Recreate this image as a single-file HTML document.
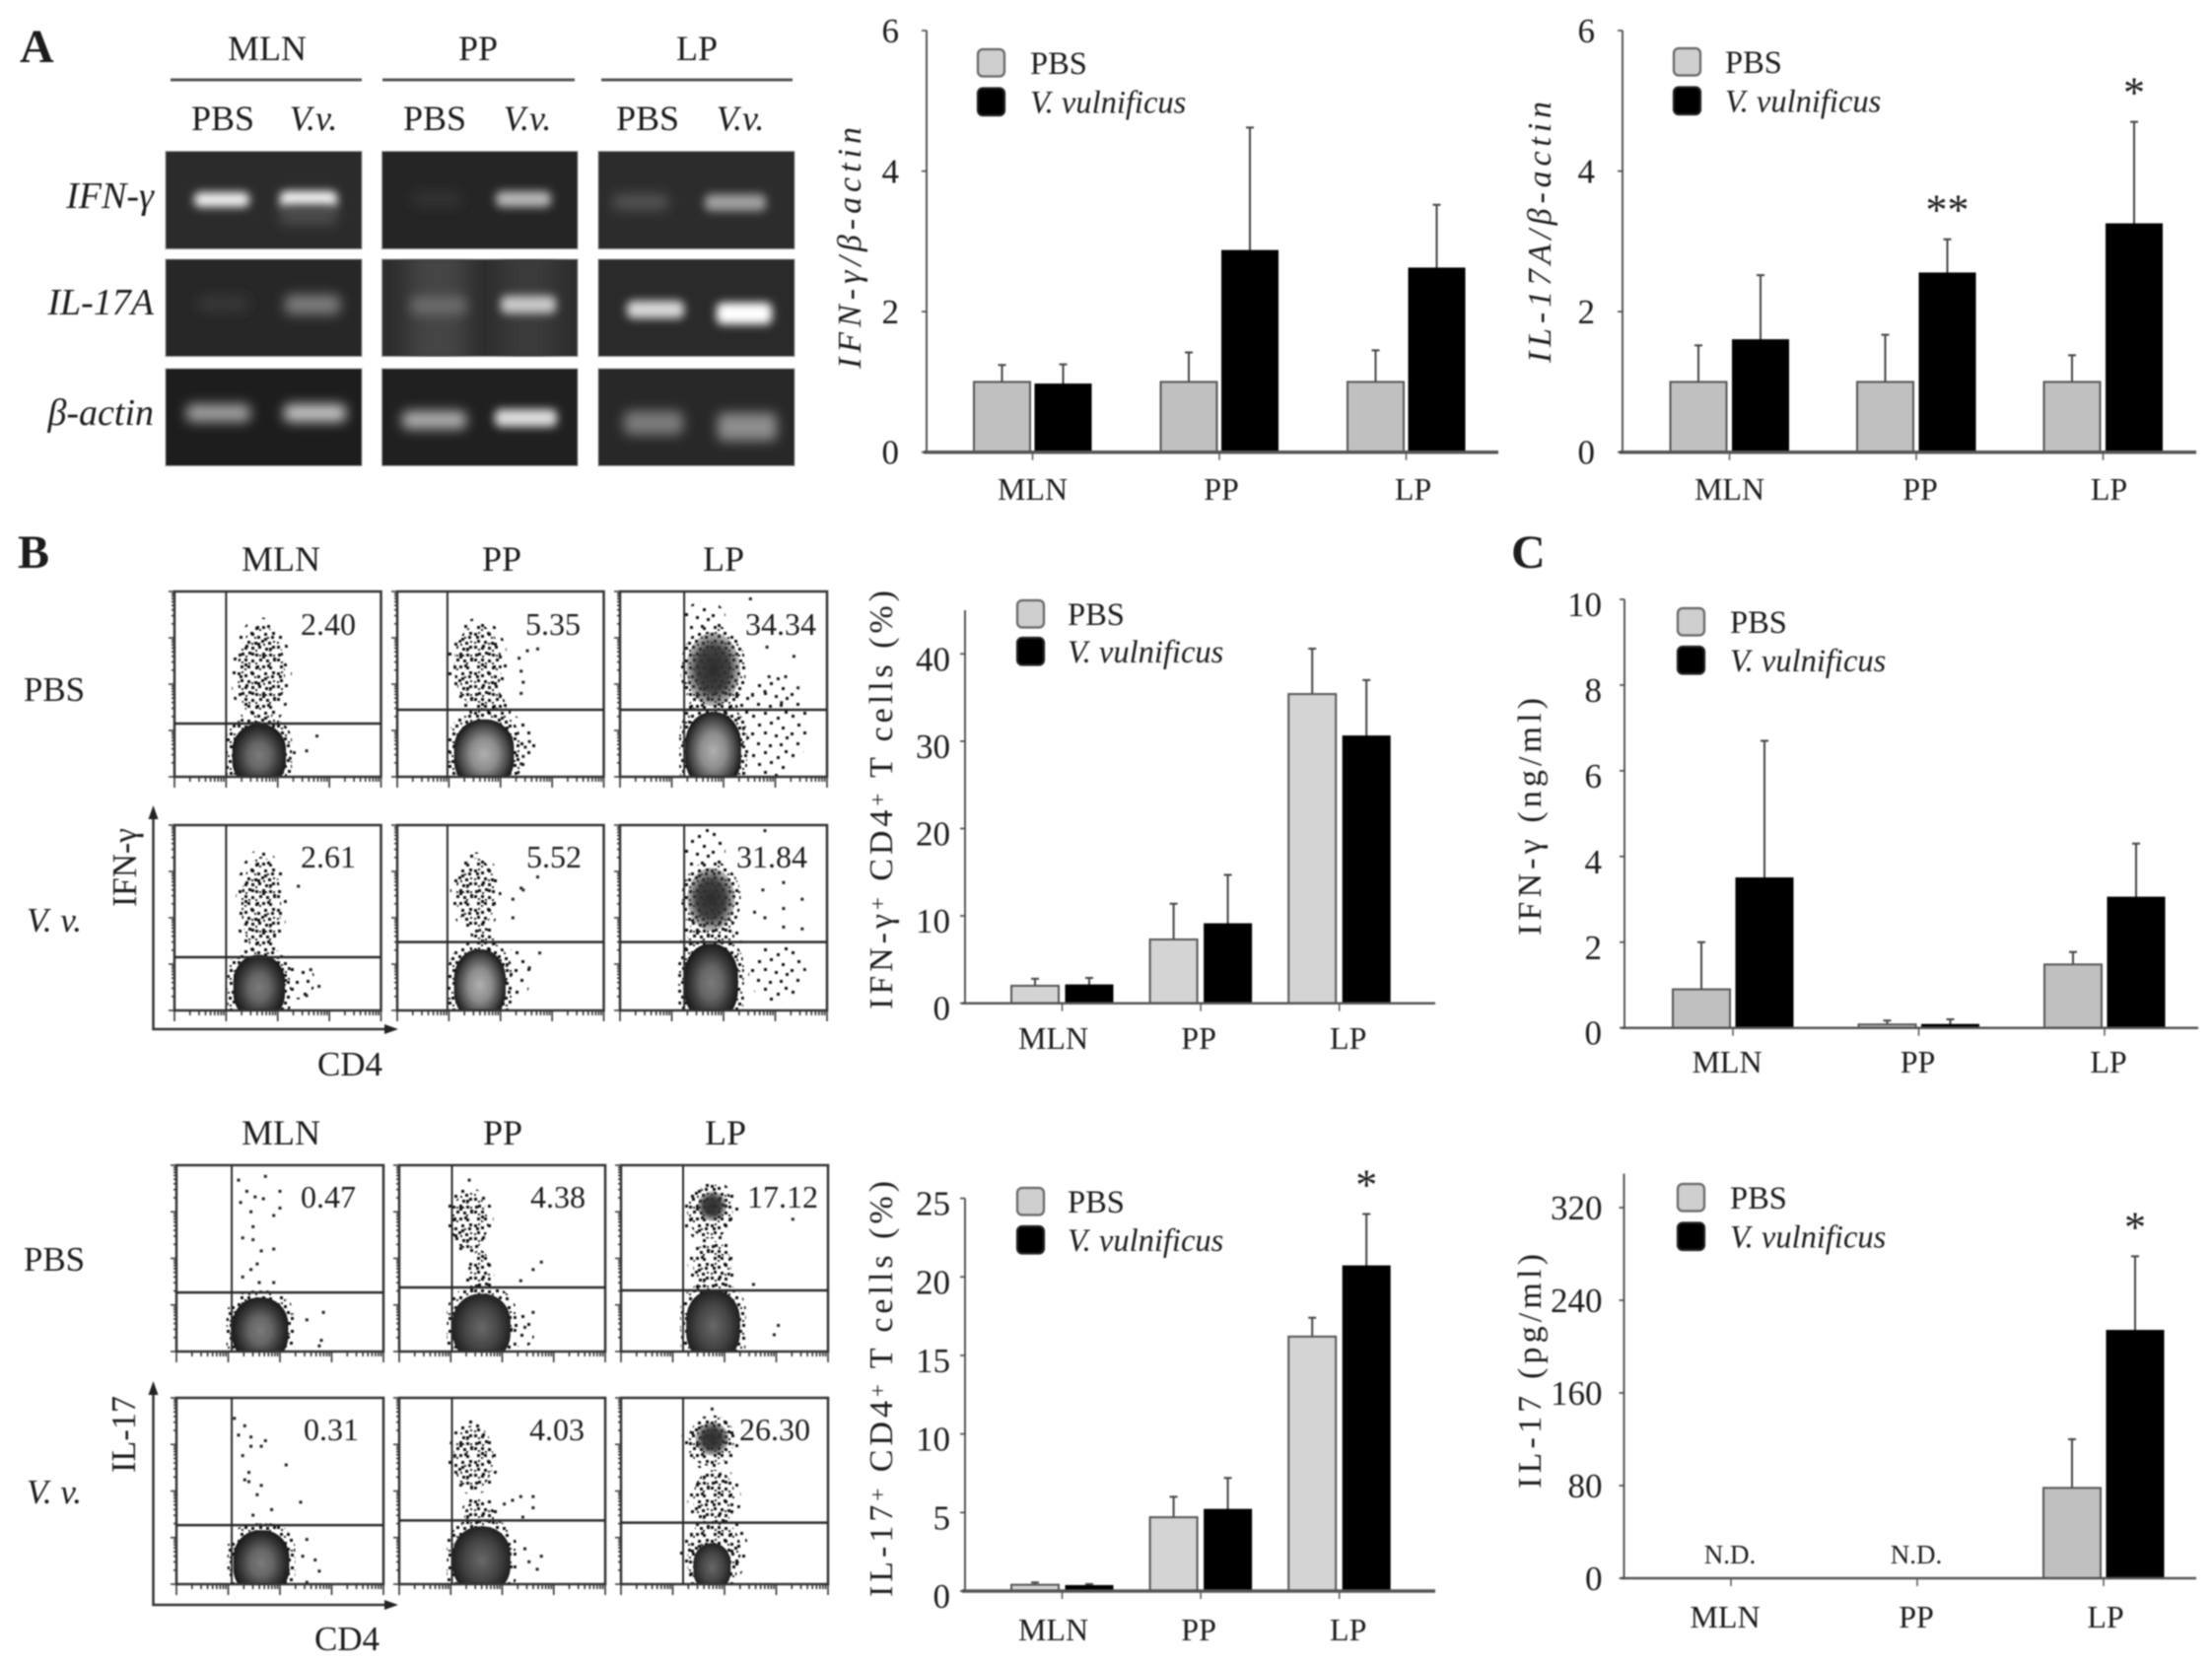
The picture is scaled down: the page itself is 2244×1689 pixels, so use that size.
<!DOCTYPE html>
<html lang="en">
<head>
<meta charset="utf-8">
<title>V. vulnificus cytokine figure</title>
<style>
html,body{margin:0;padding:0;background:#fff;width:2244px;height:1689px;overflow:hidden}
svg{display:block;filter:blur(.7px)}
text{font-family:"Liberation Serif","DejaVu Serif",serif;fill:#1c1c1c}
.h{font-size:36px;text-anchor:middle}
.p{font-size:32px;text-anchor:middle}
.r{font-size:35px;text-anchor:middle}
.i{font-style:italic}
.g{font-size:38px;font-style:italic;text-anchor:end}
.L{font-size:48px;font-weight:bold}
</style>
</head>
<body>
<svg id="fig" xmlns="http://www.w3.org/2000/svg" width="2244" height="1689" viewBox="0 0 2244 1689">
<defs>
<filter id="b5" x="-50%" y="-150%" width="200%" height="400%"><feGaussianBlur stdDeviation="6"/></filter>
<filter id="b3" x="-50%" y="-150%" width="200%" height="400%"><feGaussianBlur stdDeviation="4.5"/></filter>
<filter id="b12" x="-40%" y="-40%" width="180%" height="180%"><feGaussianBlur stdDeviation="10"/></filter>
<clipPath id="clipSmear"><rect x="387.5" y="263" width="198.5" height="98.5"/></clipPath>
<pattern id="stipSparse" width="40" height="40" patternUnits="userSpaceOnUse"><path fill="#111" d="M3 5h3v3h-3zM15 2h3v3h-3zM28 7h3v3h-3zM36 1h3v3h-3zM9 14h3v3h-3zM21 12h3v3h-3zM33 17h3v3h-3zM2 23h3v3h-3zM15 22h3v3h-3zM26 25h3v3h-3zM37 27h3v3h-3zM8 33h3v3h-3zM20 35h3v3h-3zM31 34h3v3h-3z"/></pattern>
<pattern id="stipDense" width="40" height="40" patternUnits="userSpaceOnUse">
<path fill="#111" d="M1 2h3v3h-3zM8 4h3v3h-3zM14 1h3v3h-3zM21 5h3v3h-3zM28 2h3v3h-3zM35 5h3v3h-3zM4 9h3v3h-3zM11 10h3v3h-3zM18 11h3v3h-3zM25 9h3v3h-3zM32 11h3v3h-3zM1 15h3v3h-3zM8 16h3v3h-3zM15 16h3v3h-3zM22 15h3v3h-3zM29 17h3v3h-3zM36 15h3v3h-3zM5 22h3v3h-3zM12 21h3v3h-3zM19 23h3v3h-3zM26 22h3v3h-3zM33 23h3v3h-3zM1 28h3v3h-3zM8 28h3v3h-3zM15 29h3v3h-3zM23 28h3v3h-3zM30 29h3v3h-3zM37 28h3v3h-3zM4 35h3v3h-3zM11 35h3v3h-3zM19 36h3v3h-3zM26 35h3v3h-3zM33 36h3v3h-3z"/>
<path fill="#222" d="M5 1h2v2h-2zM18 6h2v2h-2zM31 6h2v2h-2zM1 11h2v2h-2zM15 12h2v2h-2zM27 13h2v2h-2zM37 10h2v2h-2zM5 18h2v2h-2zM19 19h2v2h-2zM33 19h2v2h-2zM9 25h2v2h-2zM23 24h2v2h-2zM37 24h2v2h-2zM5 31h2v2h-2zM19 32h2v2h-2zM33 32h2v2h-2zM8 38h2v2h-2zM23 38h2v2h-2zM29 24h2v2h-2zM12 32h2v2h-2z"/>
</pattern>
<radialGradient id="coreDark"><stop offset="0" stop-color="#7a7a7a"/><stop offset=".4" stop-color="#666"/><stop offset=".75" stop-color="#383838"/><stop offset="1" stop-color="#1c1c1c"/></radialGradient>
<radialGradient id="coreLight"><stop offset="0" stop-color="#b0b0b0"/><stop offset=".45" stop-color="#8c8c8c"/><stop offset=".8" stop-color="#484848"/><stop offset="1" stop-color="#1e1e1e"/></radialGradient>
<radialGradient id="coreDeep"><stop offset="0" stop-color="#686868"/><stop offset=".6" stop-color="#444"/><stop offset="1" stop-color="#222"/></radialGradient>
<radialGradient id="darkCloud"><stop offset="0" stop-color="#2c2c2c"/><stop offset=".6" stop-color="#333" stop-opacity=".92"/><stop offset="1" stop-color="#444" stop-opacity=".35"/></radialGradient>
</defs>

<rect width="2244" height="1689" fill="#fff"/>

<!-- Panel letters -->
<text class="L" x="20" y="63">A</text>
<text class="L" x="18" y="576">B</text>
<text class="L" x="1533" y="576">C</text>

<!-- Panel A gel headers -->
<g>
<text class="h" x="271" y="61">MLN</text>
<text class="h" x="485" y="61">PP</text>
<text class="h" x="707" y="61">LP</text>
<rect x="173" y="79.5" width="194" height="3" fill="#555"/>
<rect x="388" y="79.5" width="195" height="3" fill="#555"/>
<rect x="610" y="79.5" width="194" height="3" fill="#555"/>
<text class="h" x="226" y="132">PBS</text>
<text class="h i" x="318" y="132">V.v.</text>
<text class="h" x="441" y="132">PBS</text>
<text class="h i" x="535" y="132">V.v.</text>
<text class="h" x="657" y="132">PBS</text>
<text class="h i" x="751" y="132">V.v.</text>
<text class="g" x="156" y="211">IFN-γ</text>
<text class="g" x="156" y="319">IL-17A</text>
<text class="g" x="156" y="431">β-actin</text>
</g>

<!-- Gel images -->
<g>
<rect x="168" y="153.5" width="199" height="99" fill="#2b2b2b" stroke="#999" stroke-width="1"/>
<rect x="387.5" y="153.5" width="198.5" height="99" fill="#252525" stroke="#999" stroke-width="1"/>
<rect x="607" y="153.5" width="199" height="99" fill="#2c2c2c" stroke="#999" stroke-width="1"/>
<rect x="168" y="263" width="199" height="98.5" fill="#272727" stroke="#999" stroke-width="1"/>
<rect x="387.5" y="263" width="198.5" height="98.5" fill="#2e2e2e" stroke="#999" stroke-width="1"/>
<rect x="607" y="263" width="199" height="98.5" fill="#2a2a2a" stroke="#999" stroke-width="1"/>
<rect x="168" y="374" width="199" height="98.5" fill="#1d1d1d" stroke="#999" stroke-width="1"/>
<rect x="387.5" y="374" width="198.5" height="98.5" fill="#202020" stroke="#999" stroke-width="1"/>
<rect x="607" y="374" width="199" height="98.5" fill="#282828" stroke="#999" stroke-width="1"/>
<g clip-path="url(#clipSmear)">
<rect x="415" y="250" width="58" height="125" fill="#444" filter="url(#b12)"/>
<rect x="510" y="250" width="52" height="125" fill="#3a3a3a" filter="url(#b12)"/>
</g>

<rect x="197" y="195" width="56" height="15" rx="6" fill="#f0f0f0" filter="url(#b3)"/>
<rect x="284" y="194" width="58" height="17" rx="6" fill="#fff" filter="url(#b3)"/>
<rect x="284" y="208" width="58" height="20" rx="6" fill="#4c4c4c" filter="url(#b5)"/>
<rect x="418" y="194" width="50" height="16" rx="6" fill="#303030" filter="url(#b5)"/>
<rect x="503" y="194" width="56" height="16" rx="6" fill="#b8b8b8" filter="url(#b3)"/>
<rect x="622" y="197" width="56" height="16" rx="6" fill="#525252" filter="url(#b5)"/>
<rect x="715" y="197" width="62" height="17" rx="6" fill="#a0a0a0" filter="url(#b3)"/>

<rect x="202" y="300" width="50" height="16" rx="6" fill="#383838" filter="url(#b5)"/>
<rect x="289" y="299" width="56" height="20" rx="6" fill="#7c7c7c" filter="url(#b5)"/>
<rect x="417" y="301" width="56" height="18" rx="6" fill="#6c6c6c" filter="url(#b5)"/>
<rect x="508" y="300" width="56" height="18" rx="6" fill="#c8c8c8" filter="url(#b3)"/>
<rect x="636" y="305" width="58" height="18" rx="6" fill="#d8d8d8" filter="url(#b3)"/>
<rect x="727" y="307" width="56" height="22" rx="6" fill="#fff" filter="url(#b3)"/>

<rect x="189" y="410" width="65" height="18" rx="6" fill="#a0a0a0" filter="url(#b5)"/>
<rect x="288" y="410" width="63" height="18" rx="6" fill="#c4c4c4" filter="url(#b5)"/>
<rect x="408" y="417" width="65" height="18" rx="6" fill="#b0b0b0" filter="url(#b5)"/>
<rect x="502" y="415" width="63" height="18" rx="6" fill="#dcdcdc" filter="url(#b3)"/>
<rect x="633" y="417" width="60" height="24" rx="6" fill="#7c7c7c" filter="url(#b5)"/>
<rect x="728" y="419" width="60" height="28" rx="6" fill="#8e8e8e" filter="url(#b5)"/>
</g>

<!-- Panel B flow labels: IFN-gamma block -->
<g>
<text class="h" x="285" y="579">MLN</text>
<text class="h" x="509" y="579">PP</text>
<text class="h" x="734" y="579">LP</text>
<text class="r" x="55" y="711">PBS</text>
<text class="r i" x="55" y="945">V. v.</text>
<text class="r" transform="translate(138,880) rotate(-90)" textLength="80" lengthAdjust="spacingAndGlyphs">IFN-γ</text>
<text class="r" x="355" y="1091">CD4</text>
</g>

<!-- Panel B flow labels: IL-17 block -->
<g>
<text class="h" x="285" y="1161">MLN</text>
<text class="h" x="510" y="1161">PP</text>
<text class="h" x="736" y="1161">LP</text>
<text class="r" x="55" y="1289">PBS</text>
<text class="r i" x="55" y="1525">V. v.</text>
<text class="r" transform="translate(137,1455) rotate(-90)" textLength="78" lengthAdjust="spacingAndGlyphs">IL-17</text>
<text class="r" x="352" y="1674">CD4</text>
</g>

<!-- Flow axes arrows -->
<g>
<path d="M155.5 828V1044H394" fill="none" stroke="#333" stroke-width="2.5"/>
<path d="M155.5 817l-5 14h10zM404 1044l-14-5v10z" fill="#222"/>
<path d="M155.5 1412V1628H394" fill="none" stroke="#333" stroke-width="2.5"/>
<path d="M155.5 1401l-5 14h10zM404 1628l-14-5v10z" fill="#222"/>
</g>

<g id="flowPlots"></g>

<!-- Percent labels sit above the dot plots -->
<g id="flowPercents">
<text class="p" x="333" y="644">2.40</text>
<text class="p" x="561" y="644">5.35</text>
<text class="p" x="792" y="644">34.34</text>
<text class="p" x="333" y="880">2.61</text>
<text class="p" x="562" y="880">5.52</text>
<text class="p" x="783" y="880">31.84</text>
<text class="p" x="333" y="1225">0.47</text>
<text class="p" x="566" y="1225">4.38</text>
<text class="p" x="794" y="1225">17.12</text>
<text class="p" x="336" y="1461">0.31</text>
<text class="p" x="565" y="1461">4.03</text>
<text class="p" x="786" y="1461">26.30</text>
</g>

<g id="barCharts"></g>
</svg>

<script>
/* ---------- Bar chart data ---------- */
const categories = ['MLN', 'PP', 'LP'];
const legendLabels = ['PBS', 'V. vulnificus'];

const ifnRnaTicks = [0, 2, 4, 6];
const ifnRnaPbs = [1, 1, 1];
const ifnRnaVv = [0.97, 2.87, 2.62];
const ifnRnaPbsErr = [1.24, 1.42, 1.45];
const ifnRnaVvErr = [1.25, 4.62, 3.52];
const ifnRnaStars = ['', '', ''];

const il17RnaTicks = [0, 2, 4, 6];
const il17RnaPbs = [1, 1, 1];
const il17RnaVv = [1.6, 2.55, 3.25];
const il17RnaPbsErr = [1.52, 1.67, 1.38];
const il17RnaVvErr = [2.52, 3.03, 4.7];
const il17RnaStars = ['', '**', '*'];

const ifnCellTicks = [0, 10, 20, 30, 40];
const ifnCellPbs = [2.0, 7.3, 35.4];
const ifnCellVv = [2.1, 9.1, 30.6];
const ifnCellPbsErr = [2.8, 11.4, 40.6];
const ifnCellVvErr = [2.9, 14.7, 37];
const ifnCellStars = ['', '', ''];

const il17CellTicks = [0, 5, 10, 15, 20, 25];
const il17CellPbs = [0.4, 4.7, 16.2];
const il17CellVv = [0.35, 5.2, 20.7];
const il17CellPbsErr = [0.55, 6.0, 17.4];
const il17CellVvErr = [0.45, 7.2, 24];
const il17CellStars = ['', '', '*'];

const ifnElisaTicks = [0, 2, 4, 6, 8, 10];
const ifnElisaPbs = [0.9, 0.08, 1.48];
const ifnElisaVv = [3.5, 0.08, 3.05];
const ifnElisaPbsErr = [2.0, 0.17, 1.77];
const ifnElisaVvErr = [6.7, 0.2, 4.3];
const ifnElisaStars = ['', '', ''];

const il17ElisaTicks = [0, 80, 160, 240, 320];
const il17ElisaPbs = [0, 0, 78];
const il17ElisaVv = [0, 0, 214];
const il17ElisaPbsErr = [0, 0, 120];
const il17ElisaVvErr = [0, 0, 278];
const il17ElisaStars = ['', '', '*'];
const il17ElisaNotes = ['N.D.', 'N.D.', ''];

/* ---------- Flow plot populations: [kind, x, y, rx, ry] in plot fractions ---------- */
const popIfnPbsMln = [['cloud', .42, .557, .125, .27], ['core', .41, .14, .13, .145]];
const popIfnPbsPp = [['cloud', .39, .60, .125, .23], ['cloud', .45, .36, .085, .12], ['sparse', .46, .16, .21, .2], ['coreLight', .42, .15, .145, .16]];
const popIfnPbsLp = [['sparse', .41, .86, .10, .09], ['sparse', .74, .27, .17, .27], ['cloud', .45, .36, .13, .14], ['dark', .45, .58, .13, .2], ['coreLight', .45, .17, .135, .18]];
const popIfnVvMln = [['cloud', .42, .57, .105, .27], ['sparse', .60, .16, .08, .10], ['core', .41, .15, .125, .15]];
const popIfnVvPp = [['cloud', .38, .63, .105, .20], ['cloud', .42, .36, .06, .09], ['sparse', .58, .20, .07, .14], ['coreLight', .40, .165, .125, .165]];
const popIfnVvLp = [['sparse', .41, .84, .10, .14], ['sparse', .76, .20, .14, .16], ['cloud', .44, .37, .125, .14], ['dark', .44, .60, .115, .17], ['core', .44, .18, .13, .18]];

const popIl17PbsMln = [['core', .405, .14, .135, .15]];
const popIl17PbsPp = [['cloud', .34, .70, .10, .16], ['cloud', .39, .42, .06, .13], ['sparse', .60, .12, .06, .10], ['coreDeep', .40, .155, .14, .155]];
const popIl17PbsLp = [['cloud', .44, .46, .10, .14], ['cloud', .43, .75, .12, .15], ['dark', .44, .78, .07, .08], ['coreDeep', .445, .165, .13, .165]];
const popIl17VvMln = [['core', .41, .14, .135, .15]];
const popIl17VvPp = [['cloud', .36, .68, .105, .18], ['cloud', .39, .36, .08, .10], ['coreDeep', .40, .155, .14, .155]];
const popIl17VvLp = [['cloud', .45, .46, .11, .16], ['cloud', .43, .76, .12, .13], ['dark', .44, .78, .08, .09], ['cloud', .45, .18, .14, .18], ['coreDeep', .44, .11, .09, .11]];

/* ---------- Individually readable stray events: [x, y] in plot fractions ---------- */
const strayIfnPbsMln = [[.69, .22], [.64, .14], [.58, .13], [.56, .10]];
const strayIfnPbsPp = [[.68, .69], [.63, .68], [.59, .64], [.60, .57], [.61, .51], [.60, .45], [.64, .19], [.61, .11], [.60, .07], [.62, .16]];
const strayIfnPbsLp = [[.63, .96], [.71, .70], [.84, .65], [.72, .54], [.80, .54], [.86, .48], [.64, .44], [.78, .40], [.70, .46]];
const strayIfnVvMln = [[.60, .67], [.66, .22], [.70, .13], [.64, .08]];
const strayIfnVvPp = [[.68, .72], [.61, .65], [.60, .66], [.56, .60], [.56, .50], [.69, .31], [.64, .23]];
const strayIfnVvLp = [[.70, .97], [.79, .69], [.69, .65], [.88, .60], [.79, .55], [.65, .53], [.70, .50], [.79, .45], [.88, .44]];
const strayIl17PbsMln = [[.30, .92], [.34, .86], [.43, .94], [.38, .83], [.42, .82], [.50, .86], [.50, .77], [.31, .80], [.36, .75], [.47, .73], [.37, .67], [.37, .60], [.32, .61], [.41, .54], [.47, .55], [.39, .47], [.36, .44], [.32, .40], [.47, .37], [.40, .37], [.71, .21], [.63, .17], [.70, .06], [.69, .03]];
const strayIl17PbsPp = [[.69, .48], [.65, .44], [.59, .38], [.65, .21], [.61, .13], [.34, .92]];
const strayIl17PbsLp = [[.83, .71], [.76, .14], [.74, .09], [.64, .36]];
const strayIl17VvMln = [[.28, .89], [.33, .85], [.30, .80], [.36, .79], [.43, .77], [.41, .74], [.36, .74], [.32, .69], [.53, .64], [.35, .60], [.33, .56], [.35, .55], [.41, .53], [.39, .48], [.60, .44], [.46, .40], [.37, .37], [.63, .24], [.61, .15], [.67, .13], [.69, .07], [.63, .01]];
const strayIl17VvPp = [[.65, .47], [.59, .47], [.55, .45], [.51, .43], [.65, .41], [.60, .36], [.69, .15], [.61, .19], [.67, .08], [.63, .12]];
const strayIl17VvLp = [[.44, .94]];

/* ---------- Layout (not data) ---------- */
const NS = 'http://www.w3.org/2000/svg';
function make(tag, attrs, parent) {
  const n = document.createElementNS(NS, tag);
  for (const k in attrs) n.setAttribute(k, attrs[k]);
  parent.appendChild(n);
  return n;
}

const barCharts = [
  { id: 'ifn-rna', pbs: ifnRnaPbs, vv: ifnRnaVv, pbsErr: ifnRnaPbsErr, vvErr: ifnRnaVvErr, ticks: ifnRnaTicks, stars: ifnRnaStars,
    axisX: 940, zeroY: 458.7, topY: 31, yMax: 6, rightX: 1520, c0: 1047.5, step: 189.5, off: 31, bw: 57, gray: '#c0c0c0', axisW: 3.5,
    tickGap: 28, labelDy: 0, catY: 496, catDx: [0, 2, 7], title: [['IFN-γ/β-actin']], italic: true, titleX: 862, titleY: 251.5, titleLen: 245,
    legX: 992, legY: [50, 89.5], legText: 1045 },
  { id: 'il17-rna', pbs: il17RnaPbs, vv: il17RnaVv, pbsErr: il17RnaPbsErr, vvErr: il17RnaVvErr, ticks: il17RnaTicks, stars: il17RnaStars,
    axisX: 1646, zeroY: 458.7, topY: 31, yMax: 6, rightX: 2228, c0: 1754.5, step: 189.5, off: 31.5, bw: 57, gray: '#c0c0c0', axisW: 3.5,
    tickGap: 28, labelDy: 0, catY: 496, catDx: [0, 4, 6], title: [['IL-17A/β-actin']], italic: true, titleX: 1562, titleY: 235.5, titleLen: 265,
    legX: 1698, legY: [49, 88.5], legText: 1750 },
  { id: 'ifn-cell', pbs: ifnCellPbs, vv: ifnCellVv, pbsErr: ifnCellPbsErr, vvErr: ifnCellVvErr, ticks: ifnCellTicks, stars: ifnCellStars,
    axisX: 979, zeroY: 1017.7, topY: 619, yMax: 45, rightX: 1456, c0: 1077.5, step: 140.6, off: 27.5, bw: 48, gray: '#d4d4d4', axisW: 2.5,
    tickGap: 15, labelDy: 5, catY: 1053, catDx: [-9, -2, 9], title: [['IFN-γ'], ['+', 1], [' CD4'], ['+', 1], [' T cells (%)']], italic: false, titleX: 894, titleY: 811.5, titleLen: 425,
    legX: 1032, legY: [609, 647], legText: 1083 },
  { id: 'il17-cell', pbs: il17CellPbs, vv: il17CellVv, pbsErr: il17CellPbsErr, vvErr: il17CellVvErr, ticks: il17CellTicks, stars: il17CellStars,
    axisX: 979, zeroY: 1614, topY: 1215.6, yMax: 25, rightX: 1456, c0: 1077.5, step: 140.6, off: 27.5, bw: 48, gray: '#d4d4d4', axisW: 3.5,
    tickGap: 15, labelDy: 5, catY: 1653, catDx: [-9, -2, 9], title: [['IL-17'], ['+', 1], [' CD4'], ['+', 1], [' T cells (%)']], italic: false, titleX: 894, titleY: 1409, titleLen: 422,
    legX: 1032, legY: [1205, 1244], legText: 1083 },
  { id: 'ifn-elisa', pbs: ifnElisaPbs, vv: ifnElisaVv, pbsErr: ifnElisaPbsErr, vvErr: ifnElisaVvErr, ticks: ifnElisaTicks, stars: ifnElisaStars,
    axisX: 1648, zeroY: 1042.7, topY: 608, yMax: 10, rightX: 2230, c0: 1758, step: 188.5, off: 32, bw: 58, gray: '#c0c0c0', axisW: 2.5,
    tickGap: 23, labelDy: 5, catY: 1077, catDx: [-6, -1, 4], title: [['IFN-γ (ng/ml)']], italic: false, titleX: 1552, titleY: 828.5, titleLen: 241,
    legX: 1702, legY: [617, 656], legText: 1755 },
  { id: 'il17-elisa', pbs: il17ElisaPbs, vv: il17ElisaVv, pbsErr: il17ElisaPbsErr, vvErr: il17ElisaVvErr, ticks: il17ElisaTicks, stars: il17ElisaStars, notes: il17ElisaNotes,
    axisX: 1647.5, zeroY: 1601, topY: 1190.6, yMax: 349.3, rightX: 2228, c0: 1756, step: 189, off: 32, bw: 58, gray: '#c0c0c0', axisW: 2.5,
    tickGap: 22, labelDy: 0, catY: 1640, catDx: [-6, -1, 2], title: [['IL-17 (pg/ml)']], italic: false, titleX: 1552, titleY: 1391, titleLen: 238,
    legX: 1702, legY: [1201, 1240.5], legText: 1755 }
];

const flowRows = [
  { y: 600, h: 188, panels: [
    { x: 177, w: 209.5, v: .25, hg: .287, pop: popIfnPbsMln, stray: strayIfnPbsMln, id: 'ifn-pbs-mln' },
    { x: 403, w: 209.5, v: .243, hg: .362, pop: popIfnPbsPp, stray: strayIfnPbsPp, id: 'ifn-pbs-pp' },
    { x: 629, w: 210, v: .31, hg: .362, pop: popIfnPbsLp, stray: strayIfnPbsLp, id: 'ifn-pbs-lp' } ] },
  { y: 837, h: 188, panels: [
    { x: 177, w: 209.5, v: .25, hg: .287, pop: popIfnVvMln, stray: strayIfnVvMln, id: 'ifn-vv-mln' },
    { x: 403, w: 209.5, v: .243, hg: .369, pop: popIfnVvPp, stray: strayIfnVvPp, id: 'ifn-vv-pp' },
    { x: 629, w: 210, v: .31, hg: .369, pop: popIfnVvLp, stray: strayIfnVvLp, id: 'ifn-vv-lp' } ] },
  { y: 1182, h: 189, panels: [
    { x: 179, w: 210, v: .267, hg: .317, pop: popIl17PbsMln, stray: strayIl17PbsMln, id: 'il17-pbs-mln' },
    { x: 405, w: 209, v: .256, hg: .344, pop: popIl17PbsPp, stray: strayIl17PbsPp, id: 'il17-pbs-pp' },
    { x: 630, w: 210, v: .30, hg: .328, pop: popIl17PbsLp, stray: strayIl17PbsLp, id: 'il17-pbs-lp' } ] },
  { y: 1418, h: 189, panels: [
    { x: 179, w: 210, v: .267, hg: .317, pop: popIl17VvMln, stray: strayIl17VvMln, id: 'il17-vv-mln' },
    { x: 405, w: 209, v: .256, hg: .342, pop: popIl17VvPp, stray: strayIl17VvPp, id: 'il17-vv-pp' },
    { x: 630, w: 210, v: .30, hg: .33, pop: popIl17VvLp, stray: strayIl17VvLp, id: 'il17-vv-lp' } ] }
];

/* ---------- Flow plots ---------- */
const svgRoot = document.getElementById('fig');
const flowRoot = document.getElementById('flowPlots');
const coreFills = { core: 'url(#coreDark)', coreLight: 'url(#coreLight)', coreDeep: 'url(#coreDeep)' };

function logTicks() {
  const out = { major: [], minor: [] };
  for (let d = 0; d <= 4; d++) {
    out.major.push(d / 4);
    if (d < 4) for (let k = 2; k <= 9; k++) out.minor.push((d + Math.log10(k)) / 4);
  }
  return out;
}
const decadeTicks = logTicks();

flowRows.forEach(function (row) {
  row.panels.forEach(function (p) {
    const sx = function (f) { return p.x + f * p.w; };
    const sy = function (f) { return row.y + row.h - f * row.h; };
    const g = make('g', {}, flowRoot);
    
    
    const defs = svgRoot.querySelector('defs');
    const clip = make('clipPath', { id: 'clip-' + p.id }, defs);
    make('rect', { x: p.x, y: row.y, width: p.w, height: row.h }, clip);
    const cloud = make('g', { 'clip-path': 'url(#clip-' + p.id + ')' }, g);
    
    
    p.pop.forEach(function (q) {
      const kind = q[0];
      const cx = sx(q[1]), cy = sy(q[2]), rx = q[3] * p.w, ry = q[4] * row.h;
      if (coreFills[kind]) {
        const halo = make('rect', { x: cx - rx - 6, y: cy - ry - 7, width: 2 * rx + 12, height: 2.35 * ry + 14, rx: rx * .95, ry: ry * .9, fill: 'url(#stipDense)' }, cloud);
        
        
        const shell = make('rect', { x: cx - rx, y: cy - ry, width: 2 * rx, height: 2.35 * ry, rx: rx * .95, ry: ry * .95, fill: coreFills[kind] }, cloud);
        
        
      } else if (kind === 'dark') {
        const halo = make('ellipse', { cx: cx, cy: cy, rx: rx + 6, ry: ry + 7, fill: 'url(#stipDense)' }, cloud);
        
        
        const e = make('ellipse', { cx: cx, cy: cy, rx: rx, ry: ry, fill: 'url(#darkCloud)' }, cloud);
        
        
      } else if (kind === 'cloud') {
        const outer = make('ellipse', { cx: cx, cy: cy, rx: rx * 1.18, ry: ry * 1.12, fill: 'url(#stipSparse)' }, cloud);
        
        
        const inner = make('ellipse', { cx: cx, cy: cy, rx: rx * .92, ry: ry * .96, fill: 'url(#stipDense)' }, cloud);
        
        
      } else {
        const e = make('ellipse', { cx: cx, cy: cy, rx: rx, ry: ry, fill: 'url(#stipSparse)' }, cloud);
        
        
      }
    });
    p.stray.forEach(function (s) {
      const d = make('rect', { x: sx(s[0]) - 1.5, y: sy(s[1]) - 1.5, width: 3, height: 3, fill: '#222' }, cloud);
      
      
    });
    const frame = make('rect', { x: p.x, y: row.y, width: p.w, height: row.h, fill: 'none', stroke: '#333', 'stroke-width': 2.5 }, g);
    
    
    const vg = make('line', { x1: sx(p.v), x2: sx(p.v), y1: row.y, y2: row.y + row.h, stroke: '#2a2a2a', 'stroke-width': 2 }, g);
    
    
    const hg = make('line', { x1: p.x, x2: p.x + p.w, y1: sy(p.hg), y2: sy(p.hg), stroke: '#2a2a2a', 'stroke-width': 2.5 }, g);
    
    
    let dT = '';
    decadeTicks.major.forEach(function (f) {
      dT += 'M' + sx(f) + ' ' + (row.y + row.h) + 'v11';
      dT += 'M' + (p.x - 6) + ' ' + sy(f) + 'h6';
    });
    decadeTicks.minor.forEach(function (f) {
      dT += 'M' + sx(f) + ' ' + (row.y + row.h) + 'v5';
      dT += 'M' + (p.x - 3) + ' ' + sy(f) + 'h3';
    });
    const ticks = make('path', { d: dT, stroke: '#333', 'stroke-width': 1.6, fill: 'none' }, g);
    
    
  });
});

/* ---------- Bar charts ---------- */
const chartRoot = document.getElementById('barCharts');
barCharts.forEach(function (c) {
  const yOf = function (v) { return c.zeroY - (v / c.yMax) * (c.zeroY - c.topY); };
  const xOf = function (i) { return c.c0 + i * c.step; };
  const g = make('g', {}, chartRoot);
  
  

  categories.forEach(function (cat, i) {
    [[c.pbs, c.pbsErr, -1, 'pbs'], [c.vv, c.vvErr, 1, 'vv']].forEach(function (s) {
      const v = s[0][i], err = s[1][i], cx = xOf(i) + s[2] * c.off;
      if (v <= 0) return;
      const eb = make('path', {
        d: 'M' + cx + ' ' + yOf(v) + 'V' + yOf(err) + 'M' + (cx - 4) + ' ' + yOf(err) + 'h8',
        stroke: '#444', 'stroke-width': 2, fill: 'none'
      }, g);
      
      
      const isPbs = s[3] === 'pbs';
      const bar = make('rect', {
        x: cx - c.bw / 2, y: yOf(v), width: c.bw, height: c.zeroY - yOf(v),
        fill: isPbs ? c.gray : '#000', stroke: isPbs ? '#555' : '#000', 'stroke-width': isPbs ? 2 : 1
      }, g);
      
      
    });
    if (c.stars[i]) {
      const star = make('text', {
        x: xOf(i) + c.off, y: yOf(c.vvErr[i]) - 35 + 20, 'text-anchor': 'middle', 'font-size': 44
      }, g);
      star.textContent = c.stars[i];
      
      
    }
    if (c.notes && c.notes[i]) {
      const note = make('text', {
        x: xOf(i) - 1, y: c.zeroY - 15, 'text-anchor': 'middle', 'font-size': 27
      }, g);
      note.textContent = c.notes[i];
      
      
    }
    const tick = make('line', { x1: xOf(i), x2: xOf(i), y1: c.zeroY, y2: c.zeroY + 8, stroke: '#555', 'stroke-width': 1.5 }, g);
    
    
    const lab = make('text', { x: xOf(i) + c.catDx[i], y: c.catY + 11, 'text-anchor': 'middle', 'font-size': 32 }, g);
    lab.textContent = cat;
    
    
  });

  const yAxis = make('line', { x1: c.axisX, x2: c.axisX, y1: c.topY, y2: c.zeroY, stroke: '#444', 'stroke-width': 1.8 }, g);
  
  
  const xAxis = make('line', { x1: c.axisX - 3, x2: c.rightX, y1: c.zeroY, y2: c.zeroY, stroke: '#555', 'stroke-width': c.axisW }, g);
  
  

  c.ticks.forEach(function (t) {
    const tk = make('line', { x1: c.axisX - 5, x2: c.axisX, y1: yOf(t), y2: yOf(t), stroke: '#444', 'stroke-width': 1.6 }, g);
    
    
    const tl = make('text', { x: c.axisX - c.tickGap, y: yOf(t) + c.labelDy + 12, 'text-anchor': 'end', 'font-size': 35 }, g);
    tl.textContent = String(t);
    
    
  });

  const title = make('text', {
    transform: 'translate(' + (c.titleX + 11) + ',' + c.titleY + ') rotate(-90)',
    'text-anchor': 'middle', 'font-size': 34, textLength: c.titleLen, lengthAdjust: 'spacing'
  }, g);
  if (c.italic) title.setAttribute('font-style', 'italic');
  c.title.forEach(function (part) {
    const ts = make('tspan', {}, title);
    ts.textContent = part[0];
    if (part[1]) {
      ts.setAttribute('baseline-shift', '30%');
      ts.setAttribute('font-size', '23');
    }
  });
  
  

  legendLabels.forEach(function (label, i) {
    const sw = make('rect', {
      x: c.legX, y: c.legY[i], width: 27, height: 27.5, rx: 5,
      fill: i === 0 ? '#cfcfcf' : '#000', stroke: i === 0 ? '#666' : '#222', 'stroke-width': 2.2
    }, g);
    
    
    const lt = make('text', { x: c.legText, y: c.legY[i] + 25, 'font-size': 32.5 }, g);
    if (i === 1) lt.setAttribute('font-style', 'italic');
    lt.textContent = label;
    
    
  });
});
</script>
</body>
</html>
